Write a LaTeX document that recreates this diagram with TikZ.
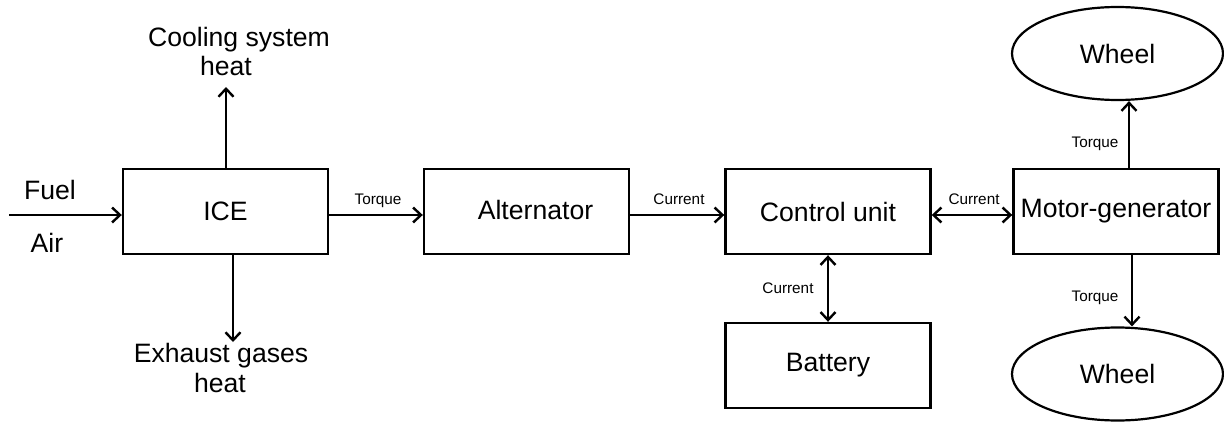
\documentclass[tikz,border=0pt]{standalone}
\usepackage{fontspec}
\setmainfont{Liberation Sans}
\usetikzlibrary{arrows.meta,shapes.geometric}
\begin{document}
\begin{tikzpicture}[x=1pt,y=-1pt,
  big/.style={font=\fontsize{26.6}{29}\selectfont},
  small/.style={font=\fontsize{15.3}{18}\selectfont},
  block/.style={draw,line width=2.4pt,minimum width=205pt,minimum height=85pt,inner sep=0pt,big},
  wheelnode/.style={draw,ellipse,line width=2.2pt,minimum width=211pt,minimum height=93pt,inner sep=0pt,big},
  tip/.style={Straight Barb[length=8pt,width=15pt,line width=2.4pt]},
  flow/.style={line width=2.3pt,-{Straight Barb[length=8pt,width=15pt,line width=2.4pt]}},
  dflow/.style={line width=2.3pt,{Straight Barb[length=8pt,width=15pt,line width=2.4pt]}-{Straight Barb[length=8pt,width=15pt,line width=2.4pt]}},
  txt/.style={anchor=base,inner sep=0pt}]
\useasboundingbox (0,0) rectangle (1224,423);

% blocks
\node[block] (ice)  at (225.5,211.5) {ICE};
\node[block] (alt)  at (526.5,211.5) {};
\node[big,txt,anchor=center] (alttext) at (535.5,210) {Alternator};
\node[block] (ctrl) at (828,211.5) {Control unit};
\node[block] (batt) at (828,365.5) {Battery};
\node[block] (mg)   at (1116,211.5) {Motor-generator};
\node[wheelnode] (w1) at (1117.5,53.5) {Wheel};
\node[wheelnode] (w2) at (1117.5,374) {Wheel};

% ICE inputs and heat outputs
\coordinate (fuelin) at (9,215);
\coordinate (cool) at (226,87);
\coordinate (exh) at (233,342);
\draw[flow] (fuelin) -- (ice.west |- fuelin);
\node[big,txt] (fuel) at (50,199) {Fuel};
\node[big,txt] (air) at (47,252) {Air};
\draw[flow] (ice.north -| cool) -- (cool);
\node[big,txt] (cool1) at (239,46) {Cooling system};
\node[big,txt] (cool2) at (226,75) {heat};
\draw[flow] (ice.south -| exh) -- (exh);
\node[big,txt] (exh1) at (221,362) {Exhaust gases};
\node[big,txt] (exh2) at (220,392) {heat};

% power flow
\coordinate (row) at (0,215);
\draw[flow] (ice.east |- row) -- (alt.west |- row);
\node[small,txt] (tq1) at (378,204) {Torque};
\draw[flow] (alt.east |- row) -- (ctrl.west |- row);
\node[small,txt] (cur1) at (679,204) {Current};
\draw[dflow] (ctrl.east |- row) -- (mg.west |- row);
\node[small,txt] (cur2) at (974,204) {Current};
\draw[dflow] (ctrl.south) -- (batt.north);
\node[small,txt] (cur3) at (788,293) {Current};

% torque to wheels
\coordinate (up) at (1129,0);
\coordinate (dn) at (1132,0);
\draw[flow] (mg.north -| up) -- (up |- w1.south);
\node[small,txt] (tq2) at (1095,147) {Torque};
\draw[flow] (mg.south -| dn) -- (dn |- w2.north);
\node[small,txt] (tq3) at (1095,301) {Torque};
\end{tikzpicture}
\end{document}
